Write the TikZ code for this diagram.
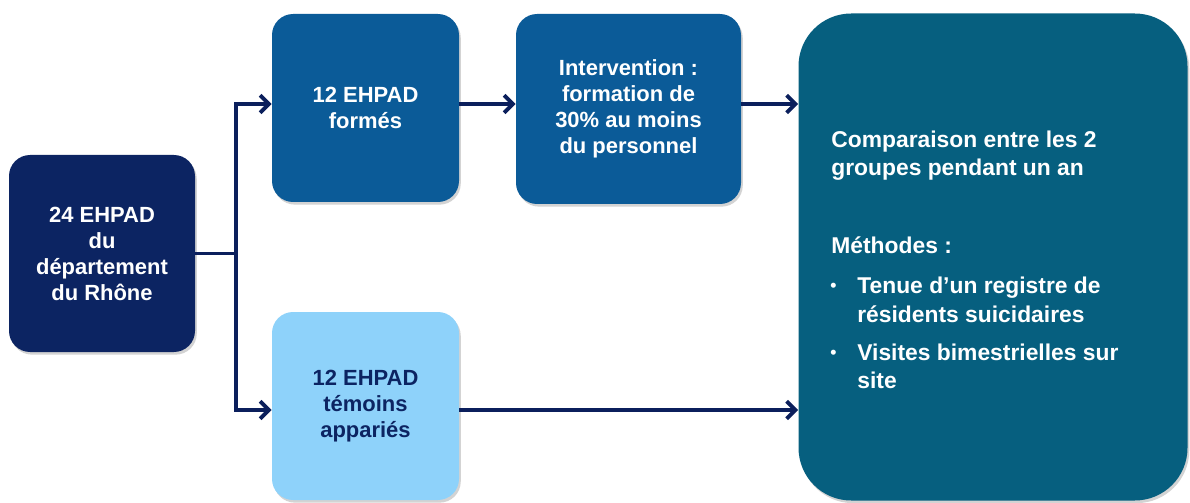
\documentclass[tikz,border=0pt]{standalone}
\usepackage{fontspec}
\setmainfont{Liberation Sans}
\usetikzlibrary{arrows.meta,shadows}
\definecolor{navy}{HTML}{0C2462}
\definecolor{midblue}{HTML}{0B5B98}
\definecolor{lightblue}{HTML}{8ED2FA}
\definecolor{teal}{HTML}{065F7F}
\definecolor{linecol}{HTML}{0B1F5C}
\tikzset{
  box/.style={rounded corners=12pt, inner sep=0pt, align=center, text=white,
    font=\fontsize{12.5}{14.8}\selectfont\bfseries,
    drop shadow={shadow xshift=1pt, shadow yshift=-1.5pt, opacity=0.35}},
  conn/.style={draw=linecol, line width=2.2pt},
  arr/.style={conn, -{Straight Barb[length=5pt,width=10pt,line width=2.2pt]}},
  etext/.style={anchor=base west, align=left, text=white, inner sep=0pt,
    font=\fontsize{13}{16}\selectfont\bfseries},
}
\begin{document}
\begin{tikzpicture}[x=0.02cm,y=-0.02cm]
\useasboundingbox (0,0) rectangle (1190,503);
\node[box, fill=navy, minimum width=186*0.02cm, minimum height=197*0.02cm] (A) at (102,253.5)
  {24 EHPAD\\du\\département\\du Rhône};
\node[box, fill=midblue, minimum width=187*0.02cm, minimum height=188*0.02cm] (B) at (365.5,108)
  {12 EHPAD\\formés};
\node[box, fill=midblue, minimum width=225*0.02cm, minimum height=190*0.02cm] (C) at (628.5,109)
  {Intervention :\\formation de\\30\% au moins\\du personnel};
\node[box, fill=lightblue, text=navy, minimum width=187*0.02cm, minimum height=188*0.02cm] (D) at (365.5,406)
  {12 EHPAD\\témoins\\appariés};
\node[box, fill=teal, rounded corners=30pt, minimum width=389*0.02cm, minimum height=487*0.02cm] (E) at (993,257) {};
\node[etext] (t1a) at (831,148) {Comparaison entre les 2};
\node[etext] (t1b) at (831,176) {groupes pendant un an};
\node[etext] (t2) at (831,254) {Méthodes :};
\node[etext, font=\fontsize{10}{12}\selectfont\bfseries] (b1) at (830,292) {•};
\node[etext] (t3a) at (857,294) {Tenue d’un registre de};
\node[etext] (t3b) at (857,322) {résidents suicidaires};
\node[etext, font=\fontsize{10}{12}\selectfont\bfseries] (b2) at (830,358) {•};
\node[etext] (t4a) at (857,360) {Visites bimestrielles sur};
\node[etext] (t4b) at (857,388) {site};
\coordinate (J) at (236,253.5);
\draw[conn] (A.east) -- (J);
\draw[arr] (J) |- ([yshift=4*0.02cm]B.west);
\draw[arr] (J) |- ([yshift=-4*0.02cm]D.west);
\draw[arr] ([yshift=4*0.02cm]B.east) -- ([yshift=4*0.02cm]B.east -| C.west);
\draw[arr] ([yshift=4*0.02cm]B.east -| C.east) -- ([yshift=4*0.02cm]B.east -| E.west);
\draw[arr] ([yshift=-4*0.02cm]D.east) -- ([yshift=-4*0.02cm]D.east -| E.west);
\end{tikzpicture}
\end{document}
